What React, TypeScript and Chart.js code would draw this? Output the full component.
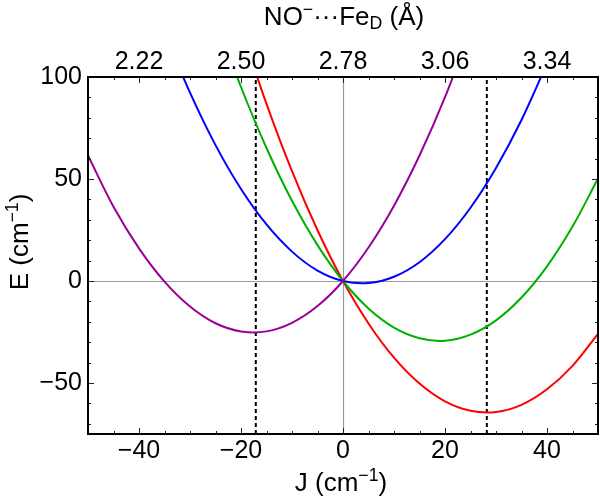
import { useEffect, useRef } from 'react';
import { Chart, registerables } from 'chart.js';

Chart.register(...registerables);

// ---- data ----
const purpleJ = [-50, -45, -40, -35, -30, -25, -20, -15, -10, -5, 0, 5, 10, 15, 20, 25];
const purpleE = [61.5, 36.4, 16.0, -0.3, -12.5, -20.7, -24.7, -24.7, -20.5, -12.3, 0, 16.4, 36.9, 61.5, 90.1, 123];

const blueJ = [-35, -30, -25, -20, -15, -10, -5, 0, 5, 10, 15, 20, 25, 30, 35, 40];
const blueE = [122, 92.3, 66.6, 45.1, 27.7, 14.4, 5.1, 0, -1.0, 2.1, 9.2, 20.5, 35.9, 55.4, 78.9, 106.6];

const greenJ = [-25, -20, -15, -10, -5, 0, 5, 10, 15, 20, 25, 30, 35, 40, 45, 50];
const greenE = [129, 95.1, 65.2, 39.3, 17.6, 0, -13.5, -22.9, -28.1, -29.3, -26.3, -19.3, -8.1, 7.2, 26.7, 50.2];

const redJ = [-20, -15, -10, -5, 0, 5, 10, 15, 20, 25, 30, 35, 40, 45, 50];
const redE = [123.8, 86.8, 53.8, 24.9, 0, -20.8, -37.6, -50.3, -59.0, -63.6, -64.2, -60.7, -53.1, -41.6, -25.9];

const dashJ = [-17.1, 28.2];
const dashE = [-75, 100];

const xTicks = [-40, -20, 0, 20, 40];
const topTickLabels = ['2.22', '2.50', '2.78', '3.06', '3.34'];
const yTicks = [-50, 0, 50, 100];
const xMin = -50, xMax = 50, yMin = -75, yMax = 100;
const xMinorStep = 5, yMinorStep = 10;

const FONT = '"Liberation Sans", Arial, Helvetica, sans-serif';
const TICK_SIZE = 25;
const TITLE_SIZE = 26;

type Seg = { t: string; m?: 'sup' | 'sub' };

function drawRich(ctx: CanvasRenderingContext2D, segs: Seg[], cx: number, cy: number, size: number, rot = 0) {
  ctx.save();
  ctx.translate(cx, cy);
  ctx.rotate(rot);
  ctx.fillStyle = '#000';
  ctx.textBaseline = 'middle';
  ctx.textAlign = 'left';
  const widths = segs.map((s) => {
    const fs = s.m ? size * 0.68 : size;
    ctx.font = `${fs}px ${FONT}`;
    return ctx.measureText(s.t).width;
  });
  const total = widths.reduce((a, b) => a + b, 0);
  let x = -total / 2;
  segs.forEach((s, i) => {
    const fs = s.m ? size * 0.68 : size;
    ctx.font = `${fs}px ${FONT}`;
    const dy = s.m === 'sup' ? -size * 0.32 : s.m === 'sub' ? size * 0.22 : 0;
    ctx.fillText(s.t, x, dy);
    x += widths[i];
  });
  ctx.restore();
}

const framePlugin = {
  id: 'framePlugin',
  beforeDatasetsDraw(chart: any) {
    const { ctx, chartArea: a, scales } = chart;
    const x0 = Math.round(scales.x.getPixelForValue(0)) + 0.5;
    const y0 = Math.round(scales.y.getPixelForValue(0)) + 0.5;
    ctx.save();
    ctx.strokeStyle = '#9a9a9a';
    ctx.lineWidth = 1.2;
    ctx.beginPath();
    ctx.moveTo(x0, a.top);
    ctx.lineTo(x0, a.bottom);
    ctx.moveTo(a.left, y0);
    ctx.lineTo(a.right, y0);
    ctx.stroke();
    ctx.restore();
  },
  afterDraw(chart: any) {
    const { ctx, chartArea: a, scales } = chart;
    ctx.save();
    ctx.strokeStyle = '#222';
    ctx.lineWidth = 1;
    ctx.beginPath();
    for (let v = xMin + xMinorStep; v < xMax; v += xMinorStep) {
      const px = Math.round(scales.x.getPixelForValue(v)) + 0.5;
      const len = xTicks.includes(v) ? 6 : 3;
      ctx.moveTo(px, a.bottom);
      ctx.lineTo(px, a.bottom - len);
      ctx.moveTo(px, a.top);
      ctx.lineTo(px, a.top + len);
    }
    for (let v = yMin + 5; v < yMax; v += yMinorStep) {
      const py = Math.round(scales.y.getPixelForValue(v)) + 0.5;
      const len = yTicks.includes(v) ? 6 : 3;
      ctx.moveTo(a.left, py);
      ctx.lineTo(a.left + len, py);
      ctx.moveTo(a.right, py);
      ctx.lineTo(a.right - len, py);
    }
    ctx.stroke();
    ctx.strokeStyle = '#000';
    ctx.lineWidth = 2;
    ctx.strokeRect(a.left, a.top, a.right - a.left, a.bottom - a.top);
    ctx.restore();

    drawRich(ctx, [{ t: 'NO' }, { t: '−', m: 'sup' }, { t: '···Fe' }, { t: 'D', m: 'sub' }, { t: ' (Å)' }], 344, 18, TITLE_SIZE);
    drawRich(ctx, [{ t: 'J (cm' }, { t: '−1', m: 'sup' }, { t: ')' }], 341, 484, TITLE_SIZE);
    drawRich(ctx, [{ t: 'E (cm' }, { t: '−1', m: 'sup' }, { t: ')' }], 21, 242, TITLE_SIZE, -Math.PI / 2);
  },
};

const fmt = (v: number) => String(v).replace('-', '−');

export default function App() {
  const ref = useRef<HTMLCanvasElement | null>(null);
  useEffect(() => {
    document.body.style.margin = '0';
    if (!ref.current) return;
    const mk = (js: number[], es: number[]) => js.map((j, i) => ({ x: j, y: es[i] }));
    const curve = (data: any, color: string) => ({
      data,
      borderColor: color,
      borderWidth: 2,
      pointRadius: 0,
      tension: 0.35,
      fill: false,
    });
    const dash = (j: number) => ({
      data: dashE.map((e) => ({ x: j, y: e })),
      borderColor: '#000',
      borderWidth: 2,
      borderDash: [4, 3],
      pointRadius: 0,
      tension: 0,
      fill: false,
    });
    const chart = new Chart(ref.current, {
      type: 'line',
      data: {
        datasets: [
          curve(mk(purpleJ, purpleE), '#990099'),
          curve(mk(blueJ, blueE), '#0000ff'),
          curve(mk(greenJ, greenE), '#00b000'),
          curve(mk(redJ, redE), '#ff0000'),
          dash(dashJ[0]),
          dash(dashJ[1]),
        ] as any,
      },
      options: {
        responsive: false,
        maintainAspectRatio: false,
        animation: false,
        layout: { padding: { left: 0, right: 2, top: 0, bottom: 0 } },
        plugins: { legend: { display: false }, tooltip: { enabled: false } },
        scales: {
          x: {
            type: 'linear',
            position: 'bottom',
            min: xMin,
            max: xMax,
            grid: { display: false, drawTicks: false },
            border: { display: false },
            afterBuildTicks: (s: any) => { s.ticks = xTicks.map((v) => ({ value: v })); },
            afterFit: (s: any) => { s.height = 70; },
            ticks: {
              padding: 2,
              color: '#000',
              font: { family: FONT, size: TICK_SIZE },
              maxRotation: 0,
              autoSkip: false,
              callback: (v: any) => fmt(v),
            },
          },
          x2: {
            type: 'linear',
            position: 'top',
            min: xMin,
            max: xMax,
            grid: { display: false, drawTicks: false },
            border: { display: false },
            afterBuildTicks: (s: any) => { s.ticks = xTicks.map((v) => ({ value: v })); },
            afterFit: (s: any) => { s.height = 77; },
            ticks: {
              padding: 0,
              color: '#000',
              font: { family: FONT, size: TICK_SIZE },
              maxRotation: 0,
              autoSkip: false,
              callback: (v: any) => topTickLabels[xTicks.indexOf(Number(v))] ?? '',
            },
          },
          y: {
            type: 'linear',
            min: yMin,
            max: yMax,
            grid: { display: false, drawTicks: false },
            border: { display: false },
            afterBuildTicks: (s: any) => { s.ticks = yTicks.map((v) => ({ value: v })); },
            afterFit: (s: any) => { s.width = 88; },
            ticks: {
              padding: 6,
              color: '#000',
              font: { family: FONT, size: TICK_SIZE },
              callback: (v: any) => fmt(v),
            },
          },
        },
      } as any,
      plugins: [framePlugin],
    });
    return () => chart.destroy();
  }, []);
  return <canvas ref={ref} width={600} height={504} style={{ display: 'block' }} />;
}
